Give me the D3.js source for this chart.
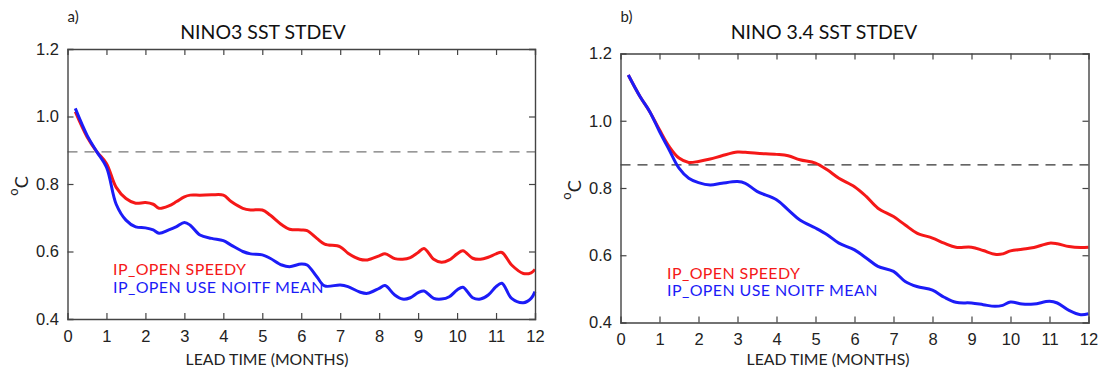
<!DOCTYPE html>
<html>
<head>
<meta charset="utf-8">
<script src="https://cdn.jsdelivr.net/npm/d3@7"></script>
<style>
  body { margin: 0; background: #fff; }
  svg { display: block; font-family: Lato, "Open Sans", sans-serif; }
</style>
</head>
<body>
<div id="chartContainer"></div>
<script>
// lead time in months
const leadA = [0.2, 0.5, 0.75, 1, 1.25, 1.5, 1.75, 2, 2.2, 2.35, 2.6, 2.8, 3, 3.15, 3.4, 3.7,
  4, 4.2, 4.5, 4.7, 5, 5.2, 5.5, 5.7, 6, 6.15, 6.4, 6.6, 7, 7.2, 7.5, 7.7,
  8, 8.15, 8.4, 8.6, 8.8, 9, 9.15, 9.4, 9.6, 9.8, 10, 10.15, 10.4, 10.6, 10.8,
  11, 11.15, 11.4, 11.7, 11.9, 12];
const speedyA = [1.014, 0.94, 0.896, 0.861, 0.79, 0.757, 0.743, 0.745, 0.74, 0.728, 0.735, 0.748,
  0.762, 0.767, 0.767, 0.768, 0.767, 0.748, 0.728, 0.723, 0.723, 0.708, 0.679, 0.666,
  0.664, 0.662, 0.639, 0.622, 0.614, 0.595, 0.577, 0.575, 0.587, 0.593, 0.579, 0.577, 0.582,
  0.597, 0.609, 0.577, 0.568, 0.575, 0.593, 0.602, 0.58, 0.577, 0.583,
  0.593, 0.597, 0.56, 0.535, 0.537, 0.547];
const noitfA = [1.024, 0.945, 0.896, 0.85, 0.74, 0.693, 0.673, 0.67, 0.664, 0.654, 0.664, 0.674,
  0.686, 0.678, 0.649, 0.639, 0.632, 0.619, 0.6, 0.593, 0.59, 0.58, 0.56, 0.555,
  0.563, 0.56, 0.525, 0.498, 0.501, 0.496, 0.48, 0.476, 0.491, 0.499, 0.471, 0.459, 0.463,
  0.478, 0.483, 0.461, 0.459, 0.466, 0.486, 0.494, 0.463, 0.459, 0.471,
  0.496, 0.506, 0.461, 0.448, 0.461, 0.481];
const refA = 0.895;

const leadB = [0.2, 0.5, 0.75, 1, 1.25, 1.5, 1.75, 2, 2.3, 2.6, 3, 3.2, 3.5, 4, 4.3, 4.6,
  5, 5.3, 5.6, 6, 6.3, 6.6, 7, 7.3, 7.6, 8, 8.3, 8.6, 9, 9.3, 9.6, 9.8,
  10, 10.3, 10.6, 11, 11.2, 11.5, 11.8, 12];
const speedyB = [1.136, 1.072, 1.027, 0.973, 0.923, 0.889, 0.876, 0.879, 0.886, 0.896,
  0.907, 0.906, 0.903, 0.9, 0.896, 0.884, 0.874, 0.854, 0.829, 0.804, 0.775, 0.74,
  0.715, 0.69, 0.666, 0.651, 0.636, 0.624, 0.624, 0.614, 0.603, 0.604,
  0.613, 0.618, 0.623, 0.636, 0.634, 0.626, 0.623, 0.624];
const noitfB = [1.136, 1.072, 1.027, 0.968, 0.913, 0.859, 0.829, 0.816, 0.809, 0.814,
  0.819, 0.814, 0.79, 0.765, 0.735, 0.705, 0.681, 0.661, 0.636, 0.616, 0.592, 0.567,
  0.552, 0.522, 0.507, 0.496, 0.475, 0.46, 0.458, 0.453, 0.448, 0.451,
  0.461, 0.455, 0.455, 0.463, 0.458, 0.436, 0.423, 0.426];
const refB = 0.869;

const xTicks = [0, 1, 2, 3, 4, 5, 6, 7, 8, 9, 10, 11, 12];
const yTicks = [0.4, 0.6, 0.8, 1.0, 1.2];
const seriesNames = ["IP_OPEN SPEEDY", "IP_OPEN USE NOITF MEAN"];
const seriesColors = ["#f51818", "#1c1cf7"];

const width = 1102;
const height = 373;

const svg = d3.create("svg")
  .attr("width", width)
  .attr("height", height)
  .attr("viewBox", [0, 0, width, height]);
document.getElementById("chartContainer").appendChild(svg.node());

function drawPanel(p) {
  const x = d3.scaleLinear().domain([0, 12]).range([p.left, p.right]);
  const y = d3.scaleLinear().domain([0.4, 1.2]).range([p.bottom, p.top]);
  const g = svg.append("g");
  const axisColor = "#444";

  // reference dashed line
  g.append("line")
    .attr("x1", x(0)).attr("x2", x(12))
    .attr("y1", y(p.ref)).attr("y2", y(p.ref))
    .attr("stroke", p.dashColor)
    .attr("stroke-width", 1.3)
    .attr("stroke-dasharray", "10,7");

  const line = d3.line()
    .x((d) => x(d[0]))
    .y((d) => y(d[1]))
    .curve(d3.curveCatmullRom.alpha(0.5));

  [p.speedy, p.noitf].forEach((vals, i) => {
    g.append("path")
      .datum(p.lead.map((m, k) => [m, vals[k]]))
      .attr("fill", "none")
      .attr("stroke", seriesColors[i])
      .attr("stroke-width", 3)
      .attr("stroke-linejoin", "round")
      .attr("d", line);
  });

  // frame with inward ticks
  const bottomAx = g.append("g")
    .attr("transform", `translate(0,${p.bottom})`)
    .call(d3.axisBottom(x).tickValues(xTicks).tickSize(-6).tickPadding(11).tickFormat(d3.format("d")));
  const topAx = g.append("g")
    .attr("transform", `translate(0,${p.top})`)
    .call(d3.axisTop(x).tickValues(xTicks).tickSize(-6).tickFormat(""));
  const leftAx = g.append("g")
    .attr("transform", `translate(${p.left},0)`)
    .call(d3.axisLeft(y).tickValues(yTicks).tickSize(-6).tickPadding(8.5).tickFormat(d3.format(".1f")));
  const rightAx = g.append("g")
    .attr("transform", `translate(${p.right},0)`)
    .call(d3.axisRight(y).tickValues(yTicks).tickSize(-6).tickFormat(""));

  [bottomAx, topAx, leftAx, rightAx].forEach((a) => {
    a.select(".domain").attr("stroke", axisColor).attr("stroke-width", 1.4);
    a.selectAll(".tick line").attr("stroke", axisColor).attr("stroke-width", 1.2);
    a.selectAll(".tick text").attr("fill", "#222").style("font-size", "16.5px");
  });
  // hide end ticks sitting on the frame corners
  [bottomAx, topAx].forEach((a) => a.selectAll(".tick line").filter((d) => d === 0 || d === 12).remove());
  [leftAx, rightAx].forEach((a) => a.selectAll(".tick line").filter((d) => d === 0.4 || d === 1.2).remove());

  // panel letter and title
  g.append("text")
    .attr("x", p.left)
    .attr("y", 22)
    .style("font-size", "15px")
    .attr("fill", "#222")
    .text(p.letter);

  g.append("text")
    .attr("x", p.titleX)
    .attr("y", 39)
    .attr("text-anchor", "middle")
    .style("font-size", "19.5px")
    .attr("fill", "#111")
    .text(p.title);

  // x label
  g.append("text")
    .attr("x", p.titleX + 4)
    .attr("y", 365)
    .attr("text-anchor", "middle")
    .style("font-size", "15.8px")
    .attr("fill", "#222")
    .text("LEAD TIME (MONTHS)");

  // y label, degrees C
  const yl = g.append("text")
    .attr("transform", `translate(${p.left - 39.5},${(p.top + p.bottom) / 2 + 2}) rotate(-90)`)
    .attr("text-anchor", "middle")
    .style("font-size", "18px")
    .attr("fill", "#222");
  yl.append("tspan").attr("dy", "-10").style("font-size", "13px").text("o");
  yl.append("tspan").attr("dy", "10").text("C");

  // inline legend
  seriesNames.forEach((name, i) => {
    g.append("text")
      .attr("x", p.legendX)
      .attr("y", p.legendY + i * p.legendGap)
      .style("font-size", "16px")
      .style("letter-spacing", "0.4px")
      .attr("fill", seriesColors[i])
      .text(name);
  });
}

drawPanel({
  left: 67.5, right: 535, top: 49, bottom: 319,
  lead: leadA, speedy: speedyA, noitf: noitfA, ref: refA, dashColor: "#777",
  letter: "a)", title: "NINO3 SST STDEV", titleX: 263,
  legendX: 113, legendY: 275, legendGap: 18
});

drawPanel({
  left: 620.5, right: 1088.5, top: 53.5, bottom: 322.5,
  lead: leadB, speedy: speedyB, noitf: noitfB, ref: refB, dashColor: "#333",
  letter: "b)", title: "NINO 3.4 SST STDEV", titleX: 824,
  legendX: 667, legendY: 279, legendGap: 17
});
</script>
</body>
</html>
